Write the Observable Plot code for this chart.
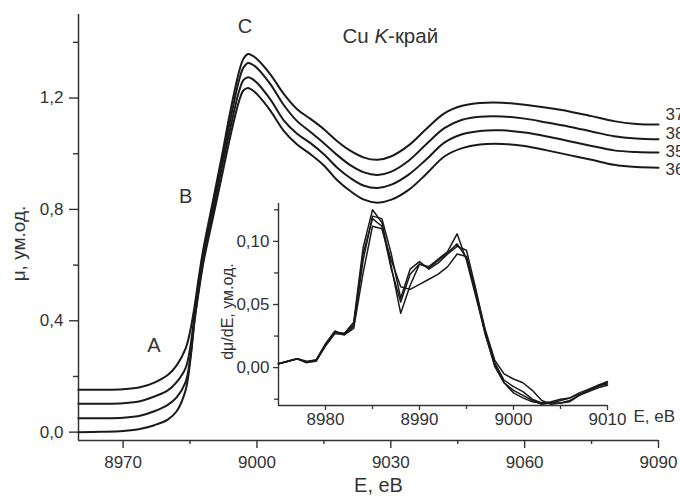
<!DOCTYPE html>
<html><head><meta charset="utf-8">
<script src="https://cdn.jsdelivr.net/npm/d3@7"></script>
<script src="https://cdn.jsdelivr.net/npm/@observablehq/plot@0.6"></script>
<style>
body{margin:0;background:#fff;font-family:"Liberation Sans",Arial,sans-serif;}
#wrap{position:relative;width:680px;height:497px;overflow:hidden;}
#inset{position:absolute;left:218px;top:193px;}
</style></head>
<body><div id="wrap"><div id="main"></div><div id="inset"></div></div>
<script>
// ---- main spectra (E, eV ; mu, arb. units) ----
const E = [8960, 8965, 8970, 8974, 8977, 8980, 8982, 8984, 8985, 8986, 8987, 8988, 8990, 8992, 8994, 8996, 8997, 8998, 8999, 9000, 9003, 9006, 9009, 9012, 9015, 9018, 9021, 9024, 9027, 9030, 9034, 9038, 9042, 9046, 9050, 9055, 9060, 9065, 9070, 9075, 9080, 9085, 9090];
const s37 = [0.152, 0.152, 0.154, 0.162, 0.178, 0.205, 0.240, 0.300, 0.360, 0.450, 0.560, 0.660, 0.820, 0.980, 1.150, 1.295, 1.342, 1.358, 1.352, 1.340, 1.285, 1.215, 1.160, 1.125, 1.088, 1.045, 1.010, 0.986, 0.978, 0.990, 1.030, 1.090, 1.145, 1.172, 1.182, 1.183, 1.176, 1.165, 1.152, 1.135, 1.117, 1.107, 1.105];
const s38 = [0.102, 0.102, 0.104, 0.112, 0.128, 0.150, 0.180, 0.230, 0.300, 0.420, 0.540, 0.640, 0.800, 0.960, 1.120, 1.265, 1.310, 1.326, 1.320, 1.308, 1.250, 1.175, 1.117, 1.078, 1.038, 0.995, 0.958, 0.933, 0.924, 0.935, 0.975, 1.035, 1.092, 1.122, 1.133, 1.134, 1.126, 1.112, 1.097, 1.080, 1.063, 1.055, 1.052];
const s35 = [0.050, 0.050, 0.052, 0.060, 0.075, 0.098, 0.125, 0.180, 0.260, 0.400, 0.520, 0.620, 0.780, 0.940, 1.090, 1.225, 1.265, 1.275, 1.268, 1.255, 1.195, 1.120, 1.072, 1.038, 0.998, 0.950, 0.912, 0.885, 0.877, 0.888, 0.925, 0.980, 1.040, 1.070, 1.082, 1.084, 1.076, 1.062, 1.045, 1.028, 1.012, 1.006, 1.004];
const s36 = [0.000, 0.001, 0.004, 0.012, 0.025, 0.045, 0.075, 0.150, 0.250, 0.400, 0.510, 0.610, 0.760, 0.910, 1.060, 1.190, 1.228, 1.236, 1.228, 1.214, 1.155, 1.082, 1.033, 0.998, 0.958, 0.905, 0.865, 0.835, 0.824, 0.834, 0.870, 0.928, 0.990, 1.020, 1.033, 1.035, 1.028, 1.012, 0.995, 0.978, 0.960, 0.952, 0.950];
const seriesNames = ["37", "38", "35", "36"];
const mainXTicks = [8970, 9000, 9030, 9060, 9090];
const mainXMinor = [8985, 9015, 9045, 9075];
const mainYTicks = [0, 0.4, 0.8, 1.2];
const mainYMinor = [0.2, 0.6, 1.0, 1.4];

// ---- inset: derivative d mu / dE ----
const Ed = [8975, 8976, 8977, 8978, 8979, 8980, 8981, 8982, 8983, 8984, 8985, 8986, 8987, 8988, 8989, 8990, 8991, 8992, 8993, 8994, 8995, 8996, 8997, 8998, 8999, 9000, 9001, 9002, 9003, 9004, 9005, 9006, 9007, 9008, 9009, 9010];
const d1 = [0.003, 0.005, 0.007, 0.004, 0.006, 0.018, 0.028, 0.027, 0.036, 0.095, 0.125, 0.115, 0.080, 0.043, 0.065, 0.082, 0.080, 0.086, 0.092, 0.106, 0.085, 0.056, 0.027, 0.001, -0.012, -0.018, -0.022, -0.026, -0.029, -0.028, -0.028, -0.027, -0.022, -0.018, -0.015, -0.012];
const d2 = [0.003, 0.005, 0.007, 0.005, 0.006, 0.019, 0.029, 0.026, 0.033, 0.085, 0.120, 0.118, 0.090, 0.055, 0.078, 0.084, 0.078, 0.083, 0.090, 0.096, 0.093, 0.062, 0.028, 0.004, -0.010, -0.015, -0.019, -0.025, -0.028, -0.028, -0.026, -0.024, -0.021, -0.018, -0.014, -0.013];
const d3v = [0.003, 0.005, 0.007, 0.004, 0.005, 0.017, 0.027, 0.026, 0.031, 0.075, 0.112, 0.110, 0.085, 0.064, 0.062, 0.066, 0.070, 0.074, 0.080, 0.090, 0.088, 0.060, 0.030, 0.006, -0.005, -0.009, -0.012, -0.018, -0.026, -0.029, -0.028, -0.026, -0.022, -0.019, -0.016, -0.014];
const d4 = [0.003, 0.005, 0.007, 0.004, 0.006, 0.018, 0.028, 0.027, 0.034, 0.090, 0.118, 0.112, 0.078, 0.052, 0.074, 0.082, 0.079, 0.085, 0.091, 0.098, 0.087, 0.058, 0.026, 0.002, -0.012, -0.020, -0.024, -0.027, -0.028, -0.027, -0.025, -0.024, -0.020, -0.017, -0.014, -0.011];
const insetXTicks = [8980, 8990, 9000, 9010];
const insetXMinor = [8985, 8995, 9005];
const insetYTicks = [0, 0.05, 0.10];
const insetYMinor = [-0.025, 0.025, 0.075, 0.125];

const comma = f => d => d3.format(f)(d).replace(".", ",");
const ink = "#1a1a1a", txt = "#333";

const mainSeries = [s37, s38, s35, s36];
const mainRows = seriesNames.flatMap((name, i) => E.map((e, j) => ({name, E: e, mu: mainSeries[i][j]})));
const ends = seriesNames.map((name, i) => ({name, E: E[E.length - 1], mu: mainSeries[i][E.length - 1]}));
const labelDy = [-10, -6, -1, 2];
const notes = [{t: "C", E: 8997.3, mu: 1.456}, {t: "B", E: 8984, mu: 0.847}, {t: "A", E: 8976.9, mu: 0.311}];

const main = Plot.plot({
  width: 680, height: 497,
  marginLeft: 78, marginRight: 22, marginTop: 14, marginBottom: 57,
  style: {fontFamily: "'Liberation Sans', Arial, sans-serif", fontSize: "17px", color: txt, background: "transparent"},
  x: {domain: [8960, 9090]},
  y: {domain: [-0.03, 1.5]},
  marks: [
    Plot.axisX({ticks: mainXTicks, tickSize: 8, tickPadding: 7, tickFormat: d => String(d), label: null, strokeWidth: 1.4}),
    Plot.axisX({ticks: mainXMinor, tickSize: 4, tickFormat: () => "", label: null, strokeWidth: 1.4}),
    Plot.axisY({ticks: mainYTicks, tickSize: 9, tickPadding: 6, tickFormat: comma(".1f"), label: null, strokeWidth: 1.4}),
    Plot.axisY({ticks: mainYMinor, tickSize: 5, tickFormat: () => "", label: null, strokeWidth: 1.4}),
    Plot.ruleX([8960], {stroke: txt, strokeWidth: 1.5}),
    Plot.ruleY([-0.03], {stroke: txt, strokeWidth: 1.5}),
    Plot.line(mainRows, {x: "E", y: "mu", z: "name", stroke: ink, strokeWidth: 2, curve: "catmull-rom"}),
    ...ends.map((d, i) => Plot.text([d], {x: "E", y: "mu", text: "name", dx: 7, dy: labelDy[i], textAnchor: "start", fontSize: 17, fill: txt})),
    Plot.text(notes, {x: "E", y: "mu", text: "t", fontSize: 20, fill: txt}),
    Plot.text(["μ, ум.од."], {frameAnchor: "left", textAnchor: "middle", lineAnchor: "middle", dx: -60, dy: 16, rotate: -90, fontSize: 19, fill: txt}),
    Plot.text(["E, eB"], {frameAnchor: "bottom", lineAnchor: "middle", dx: 10, dy: 45, fontSize: 20, fill: txt})
  ]
});
// title with italic K
{
  const sx = main.scale("x"), sy = main.scale("y");
  const t = d3.select(main).append("text")
    .attr("x", sx.apply(9030)).attr("y", sy.apply(1.415))
    .attr("text-anchor", "middle").attr("dominant-baseline", "middle")
    .attr("font-size", 20.5).attr("fill", txt);
  t.append("tspan").text("Cu ");
  t.append("tspan").attr("font-style", "italic").text("K");
  t.append("tspan").text("-край");
}
document.getElementById("main").append(main);

const insetSeries = [d1, d2, d3v, d4];
const insetRows = insetSeries.flatMap((arr, i) => Ed.map((e, j) => ({k: i, E: e, d: arr[j]})));

const inset = Plot.plot({
  width: 462, height: 242,
  marginLeft: 60, marginRight: 73, marginTop: 10, marginBottom: 30,
  style: {fontFamily: "'Liberation Sans', Arial, sans-serif", fontSize: "17px", color: txt, background: "transparent"},
  x: {domain: [8975, 9010]},
  y: {domain: [-0.03, 0.13]},
  marks: [
    Plot.axisX({ticks: insetXTicks, tickSize: 5, tickPadding: 2, tickFormat: d => String(d), label: null, strokeWidth: 1.3}),
    Plot.axisX({ticks: insetXMinor, tickSize: 4, tickFormat: () => "", label: null, strokeWidth: 1.3}),
    Plot.axisY({ticks: insetYTicks, tickSize: 5, tickPadding: 4, tickFormat: comma(".2f"), label: null, strokeWidth: 1.3}),
    Plot.axisY({ticks: insetYMinor, tickSize: 4, tickFormat: () => "", label: null, strokeWidth: 1.3}),
    Plot.ruleX([8975], {stroke: txt, strokeWidth: 1.4}),
    Plot.ruleY([-0.03], {stroke: txt, strokeWidth: 1.4}),
    Plot.line(insetRows, {x: "E", y: "d", z: "k", stroke: ink, strokeWidth: 1.5, curve: "linear"}),
    Plot.text(["dμ/dE, ум.од."], {frameAnchor: "left", textAnchor: "middle", lineAnchor: "middle", dx: -51, dy: 7, rotate: -90, fontSize: 16, fill: txt}),
    Plot.text(["E, eB"], {frameAnchor: "bottom-right", dx: 26, dy: 11, textAnchor: "start", lineAnchor: "middle", fontSize: 17, fill: txt})
  ]
});
document.getElementById("inset").append(inset);
</script></body></html>
